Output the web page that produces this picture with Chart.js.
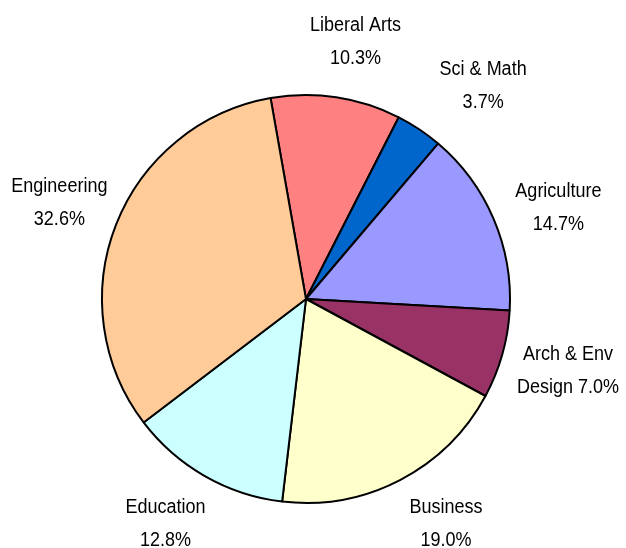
<!DOCTYPE html>
<html lang="en">
<head>
    <meta charset="UTF-8">
    <title>Majors</title>
    <script src="https://cdn.jsdelivr.net/npm/chart.js"></script>
    <style>
        html, body {
            margin: 0;
            padding: 0;
            background: #fff;
        }

        div {
            width: 626px;
            height: 548px;
        }
    </style>
</head>
<body>
    <div>
        <canvas id="pieChart"></canvas>
    </div>

    <script>
        const categories = ['Liberal Arts', 'Sci & Math', 'Agriculture', 'Arch & Env Design', 'Business', 'Education', 'Engineering'];
        const shares = [10.3, 3.7, 14.7, 7.0, 19.0, 12.8, 32.6];
        const labelLines = [
            ['Liberal Arts', '10.3%'],
            ['Sci & Math', '3.7%'],
            ['Agriculture', '14.7%'],
            ['Arch & Env', 'Design 7.0%'],
            ['Business', '19.0%'],
            ['Education', '12.8%'],
            ['Engineering', '32.6%']
        ];
        const colors = ['#FF8080', '#0066CC', '#9999FF', '#993366', '#FFFFCC', '#CCFFFF', '#FFCC99'];

        // small hand nudges so labels sit where the original ones did
        const labelNudge = [[10, 7], [29, 9], [7, 14], [5, -1], [17, -12], [-8, -7], [2, 1]];

        // draws the name / percent labels outside each slice
        const outsideLabels = {
            id: 'outsideLabels',
            afterDatasetsDraw(chart) {
                const ctx = chart.ctx;
                const meta = chart.getDatasetMeta(0);
                ctx.save();
                ctx.font = '20px "Liberation Sans", Arial, sans-serif';
                ctx.fillStyle = '#000';
                ctx.textAlign = 'center';
                ctx.textBaseline = 'middle';
                meta.data.forEach((arc, i) => {
                    const mid = (arc.startAngle + arc.endAngle) / 2;
                    const dist = arc.outerRadius + 63;
                    const cx = arc.x + Math.cos(mid) * dist + labelNudge[i][0];
                    const cy = arc.y + Math.sin(mid) * dist + labelNudge[i][1];
                    const lines = labelLines[i];
                    const lh = 33;
                    lines.forEach((line, j) => {
                        ctx.save();
                        ctx.translate(cx, cy + (j - (lines.length - 1) / 2) * lh);
                        ctx.scale(0.9, 1);  // narrow look
                        ctx.fillText(line, 0, 0);
                        ctx.restore();
                    });
                });
                ctx.restore();
            }
        };

        const ctx = document.getElementById('pieChart').getContext('2d');
        const pieChart = new Chart(ctx, {
            type: 'pie',
            data: {
                labels: categories,
                datasets: [
                    {
                        data: shares,
                        backgroundColor: colors,
                        borderColor: '#000',
                        borderWidth: 2
                    }
                ]
            },
            options: {
                responsive: true,
                maintainAspectRatio: false,
                animation: false,
                rotation: -10,
                layout: {
                    padding: { top: 94, bottom: 44, left: 101, right: 115 }
                },
                plugins: {
                    legend: { display: false },
                    tooltip: { enabled: false }
                }
            },
            plugins: [outsideLabels]
        });
    </script>
</body>
</html>
